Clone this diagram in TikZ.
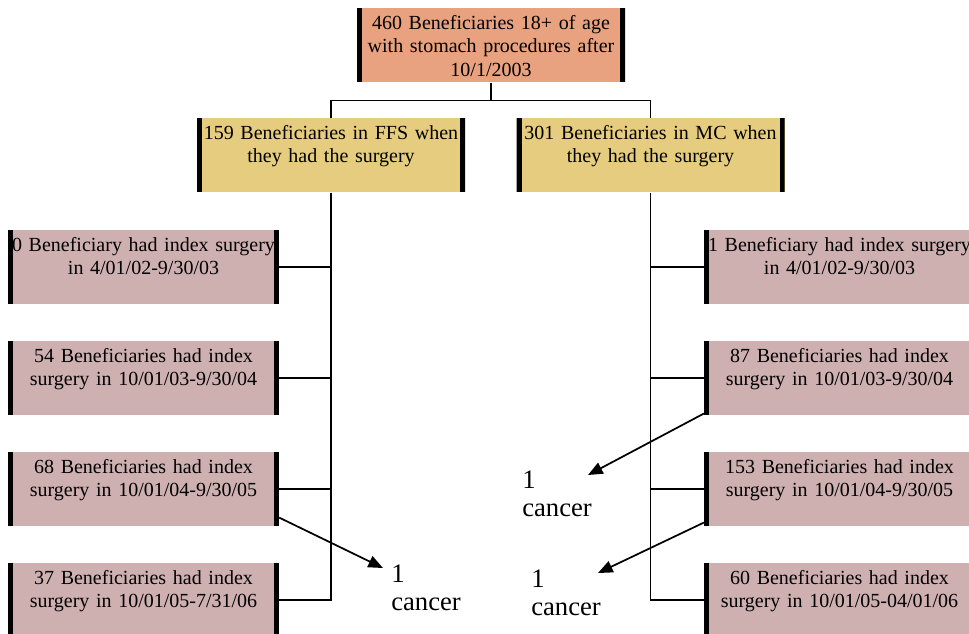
\documentclass[tikz,border=0pt]{standalone}
\usepackage{fontspec}
\setmainfont{Liberation Serif}
\usepackage{xcolor}
\usepackage{tikz}
\usetikzlibrary{arrows.meta}

\definecolor{topfill}{RGB}{233,162,128}
\definecolor{groupfill}{RGB}{229,204,126}
\definecolor{yearfill}{RGB}{207,176,177}

\tikzset{
  stagebox/.style={anchor=north, minimum width=203pt, text width=200pt, align=center,
    inner xsep=1.5pt, inner ysep=3pt, text height=13pt, text depth=36.5pt,
    font=\fontsize{15}{17.5}\selectfont,
    path picture={\draw[line width=7.5pt]
      (path picture bounding box.north west) -- (path picture bounding box.south west)
      (path picture bounding box.north east) -- (path picture bounding box.south east);}},
  topbox/.style={stagebox, fill=topfill, minimum width=201pt, text width=198pt},
  groupbox/.style={stagebox, fill=groupfill, minimum width=201pt, text width=198pt},
  yearbox/.style={stagebox, fill=yearfill},
  link/.style={line width=1.4pt},
  cancerlink/.style={line width=1.3pt, -{Triangle[length=11pt,width=9pt]}},
  cancernote/.style={anchor=base west, align=left, inner sep=0pt,
    font=\fontsize{20}{21.5}\selectfont}
}

\begin{document}
\begin{tikzpicture}[x=0.75pt, y=-0.75pt]
  \useasboundingbox (0,0) rectangle (969,633);

  % top and the two groups
  \node[topbox] (all) at (491,8) {460 Beneficiaries 18+ of age\\ with stomach procedures after\\ 10/1/2003};
  \node[groupbox] (ffs) at (331,118) {159 Beneficiaries in FFS when\\ they had the surgery};
  \node[groupbox] (mc) at (650.5,118) {301 Beneficiaries in MC when\\ they had the surgery};

  % FFS years
  \node[yearbox] (f1) at (143.5,230) {0 Beneficiary had index surgery\\ in 4/01/02-9/30/03};
  \node[yearbox] (f2) at (143.5,341) {54 Beneficiaries had index\\ surgery in 10/01/03-9/30/04};
  \node[yearbox] (f3) at (143.5,452) {68 Beneficiaries had index\\ surgery in 10/01/04-9/30/05};
  \node[yearbox] (f4) at (143.5,563) {37 Beneficiaries had index\\ surgery in 10/01/05-7/31/06};

  % MC years
  \node[yearbox] (m1) at (839.5,230) {1 Beneficiary had index surgery\\ in 4/01/02-9/30/03};
  \node[yearbox] (m2) at (839.5,341) {87 Beneficiaries had index\\ surgery in 10/01/03-9/30/04};
  \node[yearbox] (m3) at (839.5,452) {153 Beneficiaries had index\\ surgery in 10/01/04-9/30/05};
  \node[yearbox] (m4) at (839.5,563) {60 Beneficiaries had index\\ surgery in 10/01/05-04/01/06};

  % tree
  \draw[link] (all.south) -- ++(0,18) coordinate (fork);
  \draw[link] (ffs.north) |- (fork) -| (mc.north);
  \draw[link] (ffs.south) |- (f4.east);
  \draw[link] (mc.south) |- (m4.west);
  \foreach \n in {1,2,3} {
    \draw[link] (f\n.east) -- (f\n.east -| ffs.south);
    \draw[link] (m\n.west) -- (m\n.west -| mc.south);
  }

  % cancer notes
  \begin{scope}
    \clip (380,550) rectangle (480,611.5);
    \node[cancernote] (c1) at (391,610.7) {1\\ cancer};
  \end{scope}
  \begin{scope}
    \clip (510,455) rectangle (610,517.5);
    \node[cancernote] (c2) at (522,516.7) {1\\ cancer};
  \end{scope}
  \begin{scope}
    \clip (520,555) rectangle (620,616.5);
    \node[cancernote] (c3) at (531,615.7) {1\\ cancer};
  \end{scope}
  \coordinate (t1) at (383,568);
  \coordinate (t2) at (588,475);
  \coordinate (t3) at (598,573);
  \draw[cancerlink] ([yshift=6.75pt]f3.south east) -- (t1);
  \draw[cancerlink] ([yshift=1.5pt]m2.south west) -- (t2);
  \draw[cancerlink] ([yshift=3pt]m3.south west) -- (t3);
\end{tikzpicture}
\end{document}
